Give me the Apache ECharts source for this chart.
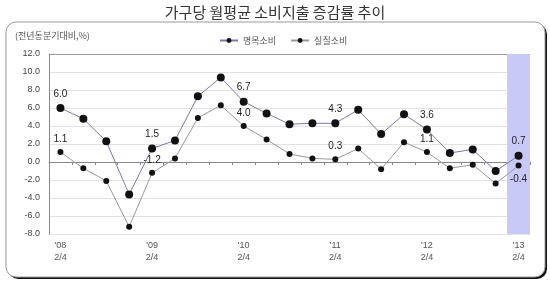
<!DOCTYPE html>
<html>
<head>
<meta charset="utf-8">
<script src="https://cdn.jsdelivr.net/npm/echarts@6/dist/echarts.min.js"></script>
<style>
html,body{margin:0;padding:0;background:#fff;}
#c{width:550px;height:289px;}
</style>
</head>
<body>
<div id="c"></div>
<script>
var titleText = '가구당 월평균 소비지출 증감률 추이';
var unitText = '(전년동분기대비,%)';
var seriesNames = ['명목소비', '실질소비'];
var categories = ["'08\n2/4","3/4","4/4","'09\n1/4","'09\n2/4","3/4","4/4","'10\n1/4","'10\n2/4","3/4","4/4","'11\n1/4","'11\n2/4","3/4","4/4","'12\n1/4","'12\n2/4","3/4","4/4","'13\n1/4","'13\n2/4"];
var nominal = [6.0, 4.8, 2.3, -3.6, 1.5, 2.4, 7.3, 9.4, 6.7, 5.4, 4.2, 4.3, 4.3, 5.8, 3.1, 5.3, 3.6, 1.0, 1.4, -1.0, 0.7];
var real = [1.1, -0.7, -2.1, -7.2, -1.2, 0.4, 4.9, 6.3, 4.0, 2.5, 0.9, 0.4, 0.3, 1.5, -0.8, 2.2, 1.1, -0.7, -0.3, -2.4, -0.4];
var labeledIdx = [0, 4, 8, 12, 16, 20];
var highlightCat = "'13\n2/4";
var yMin = -8, yMax = 12, yStep = 2;

function buildData(vals, bottomIdx) {
  return vals.map(function (v, i) {
    var show = labeledIdx.indexOf(i) >= 0;
    return {
      value: v,
      label: {
        show: show,
        position: (bottomIdx === i) ? 'bottom' : 'top',
        distance: (bottomIdx === i) ? 6 : 5,
        formatter: function (p) { return p.value.toFixed(1); }
      }
    };
  });
}
var bandTop = categories.map(function (c) { return c === highlightCat ? yMax : null; });
var bandBottom = categories.map(function (c) { return c === highlightCat ? yMin : null; });

var chart = echarts.init(document.getElementById('c'), null, {renderer: 'canvas'});
var labelStyle = {color: '#222', fontSize: 10, fontFamily: 'Arial, "Liberation Sans", sans-serif'};

chart.setOption({
  animation: false,
  backgroundColor: '#fff',
  title: {
    text: titleText, left: 'center', top: 0,
    textStyle: {fontSize: 15, fontWeight: 'normal', color: '#333', fontFamily: '"Noto Sans CJK KR", sans-serif'}
  },
  graphic: [
    {type: 'rect', z: -10, shape: {x: 8, y: 24, width: 539, height: 255, r: 10}, style: {fill: '#111'}},
    {type: 'rect', z: -9, shape: {x: 6, y: 22, width: 539, height: 255, r: 10}, style: {fill: '#fff', stroke: '#999', lineWidth: 1}},
    {type: 'text', z: 5, left: 15, top: 31, style: {text: unitText, fontSize: 9, fill: '#555', fontFamily: '"Noto Sans CJK KR", sans-serif'}}
  ],
  legend: {
    data: [
      {name: seriesNames[0]},
      {name: seriesNames[1], itemStyle: {color: '#111'}}
    ],
    top: 31, left: 214, itemGap: 14, itemWidth: 18, itemHeight: 6,
    textStyle: {fontSize: 9, color: '#555', fontFamily: '"Noto Sans CJK KR", sans-serif'}
  },
  grid: {left: 49, right: 20, top: 54, bottom: 55},
  xAxis: [{
    type: 'category', data: categories, boundaryGap: true,
    axisLine: {lineStyle: {color: '#888'}},
    axisTick: {show: true, interval: 0, length: 3, lineStyle: {color: '#888'}},
    axisLabel: {interval: 3, color: '#555', fontSize: 9, lineHeight: 12, margin: 6,
      formatter: function (v, i) { return labeledIdx.indexOf(i) >= 0 ? v : ''; },
      fontFamily: 'Arial, "Liberation Sans", sans-serif'}
  }, {
    type: 'category', data: categories, boundaryGap: true, position: 'top',
    axisLine: {show: true, lineStyle: {color: '#999'}},
    axisTick: {show: false}, axisLabel: {show: false}
  }],
  yAxis: {
    type: 'value', min: yMin, max: yMax, interval: yStep,
    axisLine: {show: true, lineStyle: {color: '#888'}},
    axisTick: {show: false},
    axisLabel: {color: '#444', fontSize: 9, margin: 9, formatter: function (v) { return v.toFixed(1); },
      fontFamily: 'Arial, "Liberation Sans", sans-serif'},
    splitLine: {lineStyle: {color: '#e2e2e2'}}
  },
  series: [
    {
      type: 'bar', data: bandTop, barWidth: '100%', barGap: '-100%', z: 2, silent: true,
      itemStyle: {color: '#c9c9f7'}
    },
    {
      type: 'bar', data: bandBottom, barWidth: '100%', barGap: '-100%', z: 2, silent: true,
      itemStyle: {color: '#c9c9f7'}
    },
    {
      name: seriesNames[0], type: 'line', data: buildData(nominal, -1),
      symbol: 'circle', symbolSize: 8, z: 4,
      lineStyle: {color: '#7b7ba6', width: 1},
      itemStyle: {color: '#111'},
      label: labelStyle
    },
    {
      name: seriesNames[1], type: 'line', data: buildData(real, 20),
      symbol: 'circle', symbolSize: 6, z: 3,
      lineStyle: {color: '#999', width: 1},
      itemStyle: {color: '#111'},
      label: labelStyle
    }
  ]
});
</script>
</body>
</html>
